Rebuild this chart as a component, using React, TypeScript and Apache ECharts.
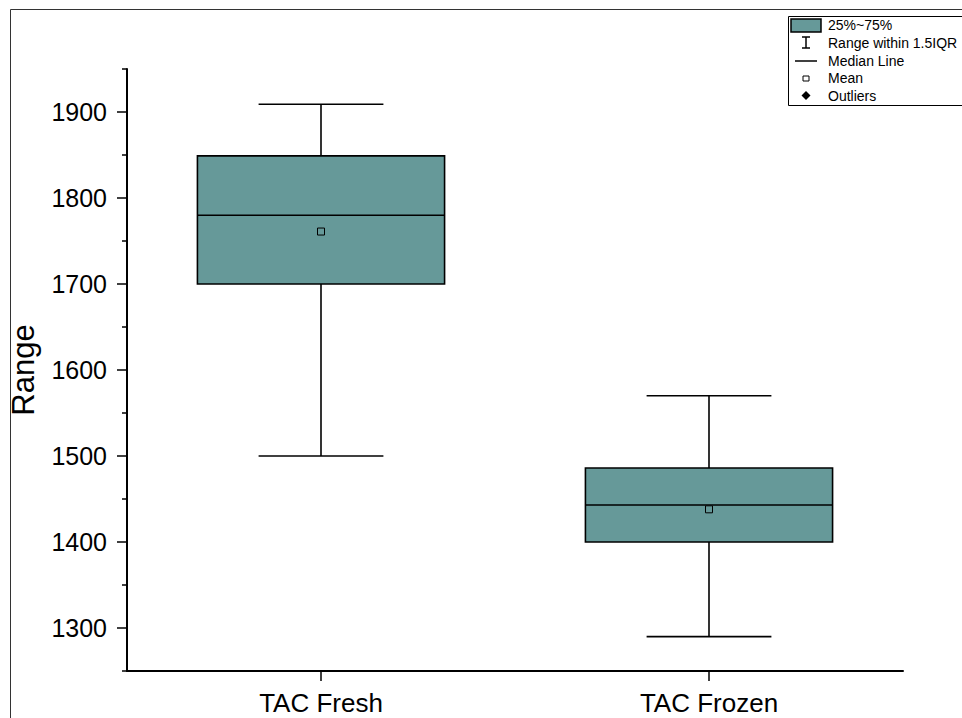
import React, { useEffect, useRef } from "react";
import * as echarts from "echarts";

const categories = ["TAC Fresh", "TAC Frozen"];
const minValues = [1500, 1290];
const q1Values = [1700, 1400];
const medianValues = [1780, 1443];
const q3Values = [1849, 1486];
const maxValues = [1909, 1570];
const meanValues = [1761, 1438];

const majorTicks = [1300, 1400, 1500, 1600, 1700, 1800, 1900];
const minorTicks = [1250, 1350, 1450, 1550, 1650, 1750, 1850, 1950];

const legendItems = ["25%~75%", "Range within 1.5IQR", "Median Line", "Mean", "Outliers"];

const FONT = "'Liberation Sans', Arial, sans-serif";
const BOX_COLOR = "#669999";

export default function App() {
  const ref = useRef<HTMLDivElement>(null);

  useEffect(() => {
    if (!ref.current) return;
    const chart = echarts.init(ref.current, null, { renderer: "svg" });

    const data = categories.map((c, i) => [
      i,
      minValues[i],
      q1Values[i],
      medianValues[i],
      q3Values[i],
      maxValues[i],
      meanValues[i],
    ]);

    const lineStyle = { stroke: "#000", lineWidth: 1.6 };

    const renderItem = (params: any, api: any) => {
      const idx = api.value(0);
      const pMin = api.coord([idx, api.value(1)]);
      const pQ1 = api.coord([idx, api.value(2)]);
      const pMed = api.coord([idx, api.value(3)]);
      const pQ3 = api.coord([idx, api.value(4)]);
      const pMax = api.coord([idx, api.value(5)]);
      const pMean = api.coord([idx, api.value(6)]);
      const band = api.size([1, 0])[0];
      const bw = band * 0.637;
      const cw = bw * 0.505;
      const x = pQ1[0];
      return {
        type: "group",
        children: [
          { type: "line", shape: { x1: x, y1: pQ3[1], x2: x, y2: pMax[1] }, style: lineStyle },
          { type: "line", shape: { x1: x, y1: pQ1[1], x2: x, y2: pMin[1] }, style: lineStyle },
          { type: "line", shape: { x1: x - cw / 2, y1: pMax[1], x2: x + cw / 2, y2: pMax[1] }, style: lineStyle },
          { type: "line", shape: { x1: x - cw / 2, y1: pMin[1], x2: x + cw / 2, y2: pMin[1] }, style: lineStyle },
          {
            type: "rect",
            shape: { x: x - bw / 2, y: pQ3[1], width: bw, height: pQ1[1] - pQ3[1] },
            style: { fill: BOX_COLOR, stroke: "#000", lineWidth: 1.6 },
          },
          { type: "line", shape: { x1: x - bw / 2, y1: pMed[1], x2: x + bw / 2, y2: pMed[1] }, style: lineStyle },
          {
            type: "rect",
            shape: { x: pMean[0] - 3.5, y: pMean[1] - 3.5, width: 7, height: 7 },
            style: { fill: BOX_COLOR, stroke: "#000", lineWidth: 1 },
          },
        ],
      };
    };

    const lx = 806;
    const legendGraphics: any[] = [
      {
        type: "rect",
        shape: { x: 788.5, y: 16.5, width: 200, height: 89 },
        style: { fill: "#fff", stroke: "#000", lineWidth: 1 },
        z: 10,
      },
      {
        type: "rect",
        shape: { x: 791, y: 19, width: 30, height: 13 },
        style: { fill: BOX_COLOR, stroke: "#000", lineWidth: 1.5 },
        z: 11,
      },
      { type: "line", shape: { x1: lx, y1: 37, x2: lx, y2: 48 }, style: { stroke: "#000", lineWidth: 1.5 }, z: 11 },
      { type: "line", shape: { x1: lx - 4, y1: 37, x2: lx + 4, y2: 37 }, style: { stroke: "#000", lineWidth: 1.5 }, z: 11 },
      { type: "line", shape: { x1: lx - 4, y1: 48, x2: lx + 4, y2: 48 }, style: { stroke: "#000", lineWidth: 1.5 }, z: 11 },
      { type: "line", shape: { x1: 795, y1: 61, x2: 817, y2: 61 }, style: { stroke: "#000", lineWidth: 1.5 }, z: 11 },
      {
        type: "rect",
        shape: { x: lx - 3, y: 76, width: 6, height: 5 },
        style: { fill: "#fff", stroke: "#000", lineWidth: 1 },
        z: 11,
      },
      {
        type: "polygon",
        shape: { points: [[lx, 91], [lx + 4.5, 95.5], [lx, 100], [lx - 4.5, 95.5]] },
        style: { fill: "#000" },
        z: 11,
      },
    ];
    legendItems.forEach((t, i) => {
      legendGraphics.push({
        type: "text",
        x: 828,
        y: 25 + i * 17.8,
        style: { text: t, fill: "#000", font: `14px ${FONT}`, textVerticalAlign: "middle", textBaseline: "middle" },
        z: 11,
      });
    });

    chart.setOption({
      animation: false,
      backgroundColor: "#fff",
      textStyle: { fontFamily: FONT },
      grid: { left: 127, top: 69, right: 59, bottom: 47, containLabel: false },
      xAxis: {
        type: "category",
        data: categories,
        boundaryGap: true,
        axisLine: { show: true, lineStyle: { color: "#000", width: 2 } },
        axisTick: { show: true, alignWithLabel: true, length: 10, lineStyle: { color: "#000", width: 1.5 } },
        axisLabel: { color: "#000", fontSize: 26, margin: 19, fontFamily: FONT },
        splitLine: { show: false },
      },
      yAxis: [
        {
          type: "value",
          min: 1250,
          max: 1950,
          name: "Range",
          nameLocation: "middle",
          nameGap: 88,
          nameTextStyle: { fontSize: 31, color: "#000", fontFamily: FONT },
          axisLine: { show: true, lineStyle: { color: "#000", width: 2 } },
          axisTick: { show: true, length: 10, customValues: majorTicks, lineStyle: { color: "#000", width: 1.5 } },
          axisLabel: {
            color: "#000",
            fontSize: 25,
            margin: 20,
            customValues: majorTicks,
            fontFamily: FONT,
            formatter: (v: number) => String(v),
          },
          splitLine: { show: false },
        },
        {
          type: "value",
          min: 1250,
          max: 1950,
          position: "left",
          axisLine: { show: false },
          axisTick: { show: true, length: 5, customValues: minorTicks, lineStyle: { color: "#000", width: 1.5 } },
          axisLabel: { show: false },
          splitLine: { show: false },
        },
      ],
      graphic: [
        {
          type: "rect",
          shape: { x: 10.5, y: 9.5, width: 1000, height: 800 },
          style: { fill: "none", stroke: "#333", lineWidth: 1 },
          z: 0,
          silent: true,
        },
        ...legendGraphics,
      ],
      series: [
        {
          type: "custom",
          renderItem,
          data,
          encode: { x: 0, y: [1, 2, 3, 4, 5, 6] },
          z: 5,
        },
      ],
    });

    return () => chart.dispose();
  }, []);

  return (
    <div
      ref={ref}
      style={{ position: "absolute", left: 0, top: 0, width: 962, height: 718 }}
    />
  );
}
